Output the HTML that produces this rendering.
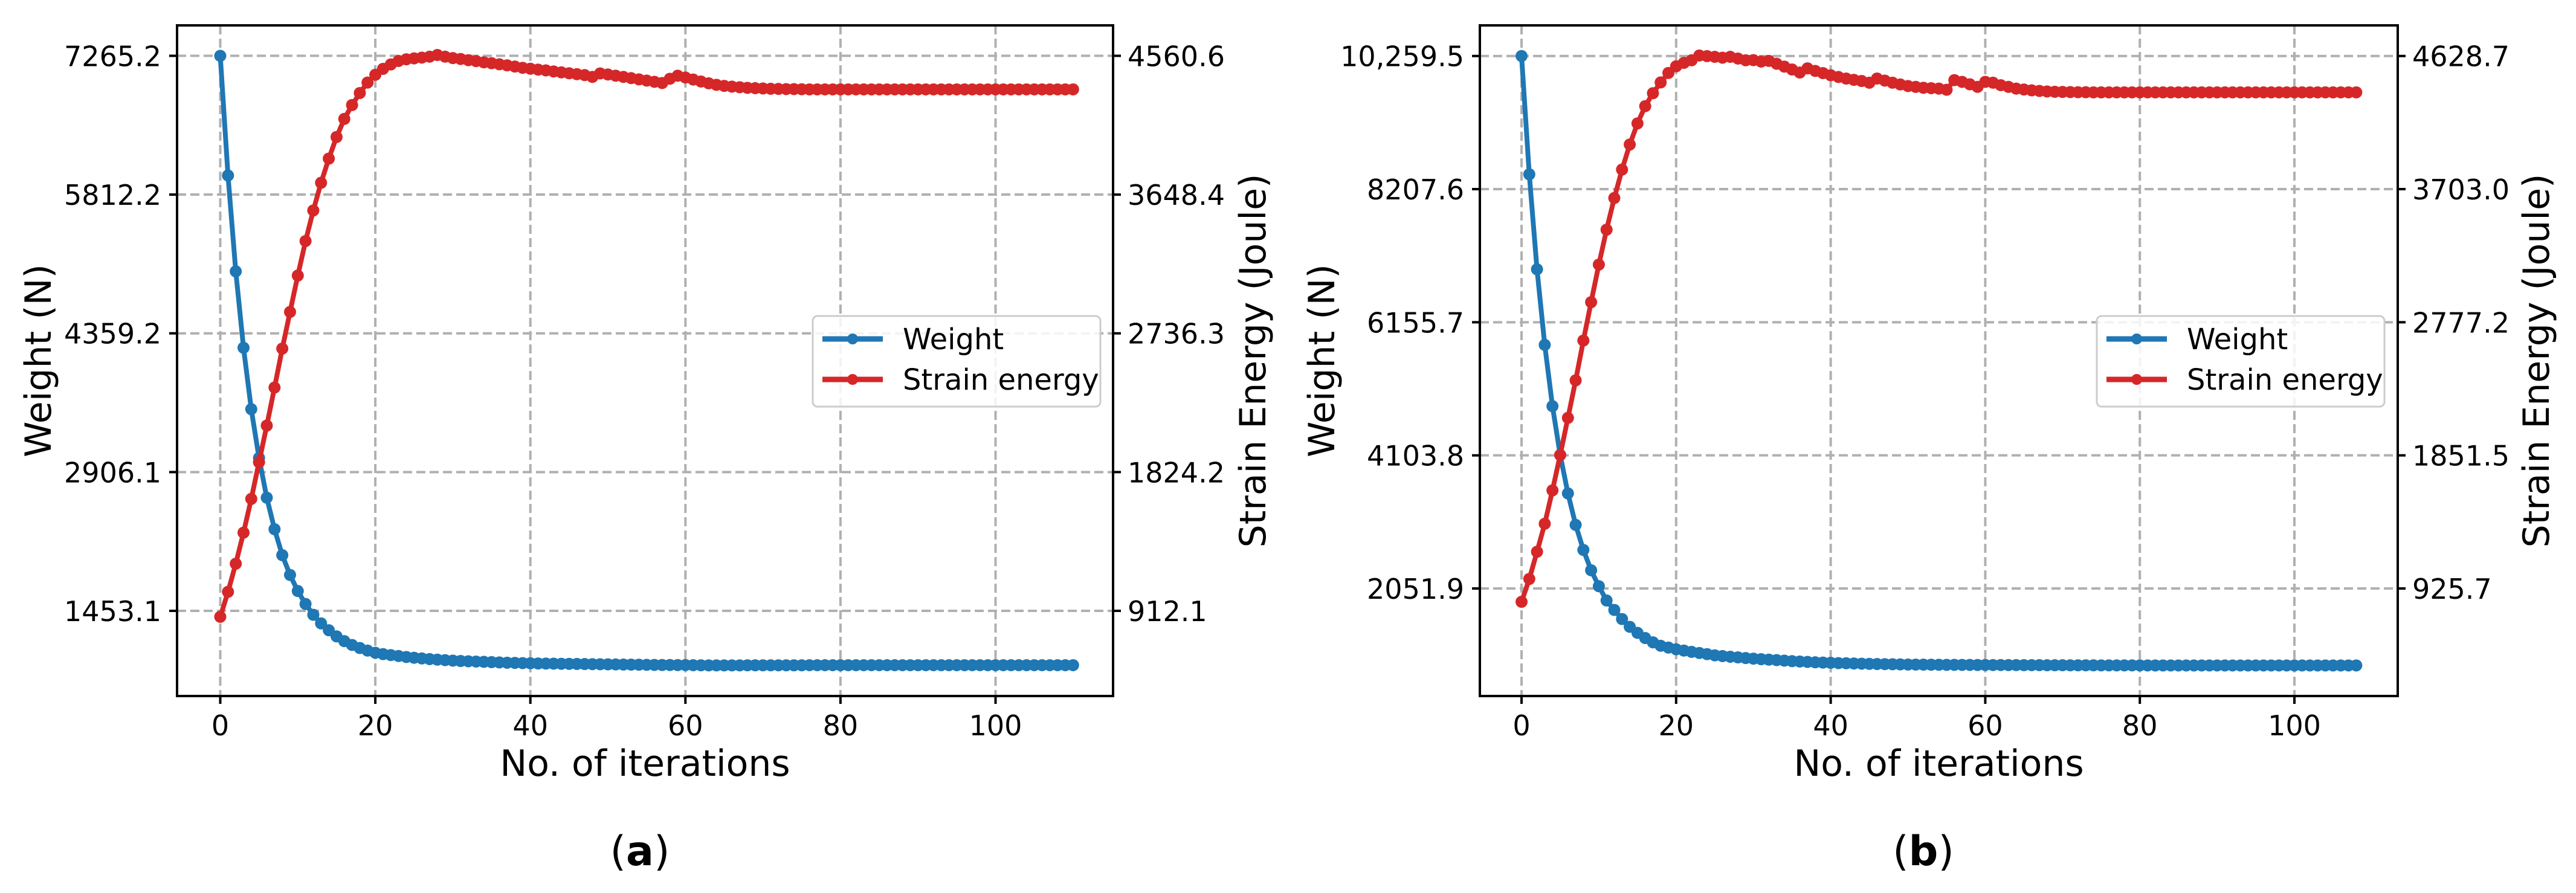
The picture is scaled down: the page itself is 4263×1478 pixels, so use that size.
<!DOCTYPE html>
<html><head><meta charset="utf-8">
<style>
html,body{margin:0;padding:0;background:#fff;}
svg{display:block;}
text{font-family:"DejaVu Sans","Liberation Sans",sans-serif;}
</style></head>
<body>
<svg id="fig" width="4263" height="1478" viewBox="0 0 4263 1478" xmlns="http://www.w3.org/2000/svg"></svg>
<script>
// ---------- Panel (a) data ----------
const aIter = Array.from({length:111},(_, i)=>i);
const aWeight = [7265,6012,5008,4208,3565,3054,2638,2308,2036,1829,1661,1525,1412,1322,1250,1186,1136,1096,1064,1037,1014,
1000,990,980,970,962,955,948,942,937,932,928,925,922,919,916,913,910,908,906,904,
902,901,900,899,898,897,896,895,894,893,892,891,890,889,888,887,886,886,885,885,
884,883,882,882,882,882,882,883,883,883,883,883,883,883,883,884,884,884,884,884,
884,884,884,884,884,884,884,884,884,884,884,884,884,884,884,884,884,884,884,884,884,884,884,884,884,884,884,884,884,884];
const aStrain = [873,1037,1222,1426,1648,1889,2130,2380,2636,2877,3116,3343,3544,3726,3885,4027,4146,4237,4316,4385,4436,4475,4504,4527,4538,4544,4549,4555,4566,4555,
4546,4540,4532,4526,4518,4512,4505,4498,4490,4482,4476,4470,4465,4458,4452,4446,4440,4434,4422,4445,
4438,4430,4422,4414,4406,4398,4390,4382,4410,4430,4418,4405,4392,4380,4370,4363,4358,4354,4350,4348,4346,
4344,4343,4342,4342,4341,4340,4340,4340,4340,4340,4340,4340,4340,4340,4340,4340,4340,4340,4340,4340,
4340,4340,4340,4340,4340,4340,4340,4340,4340,4340,4340,4340,4340,4340,4340,4340,4340,4340,4340,4340];
const aLeftTicks = ["7265.2","5812.2","4359.2","2906.1","1453.1"];
const aRightTicks = ["4560.6","3648.4","2736.3","1824.2","912.1"];
const aLeftVals = [7265.2,5812.2,4359.2,2906.1,1453.1];
const aRightVals = [4560.6,3648.4,2736.3,1824.2,912.1];
const aXTicks = [0,20,40,60,80,100];

// ---------- Panel (b) data ----------
const bIter = Array.from({length:109},(_, i)=>i);
const bWeight = [10259.5,8436,6972,5807,4862,4110,3518,3032,2646,2333,2087,1867,1721,1581,1461,1368,1288,1222,1169,1142,1115,
1095,1075,1058,1040,1022,1010,1000,990,980,970,962,955,948,940,932,926,920,914,910,906,
902,899,896,893,890,888,886,884,882,880,879,878,877,876,875,875,874,874,873,873,
872,872,871,871,870,870,870,869,869,869,868,868,868,868,867,867,867,867,867,867,
866,866,866,866,866,866,866,866,866,866,866,866,866,866,866,866,866,866,866,866,866,866,866,866,866,866,866,866];
const bStrain = [833,992,1181,1376,1608,1854,2112,2373,2650,2917,3178,3421,3641,3839,4013,4160,4280,4370,4445,4511,4557,4581,4599,4632,4628,4623,4617,4623,4611,4599,
4600,4590,4595,4575,4555,4535,4514,4543,4525,4510,
4495,4483,4472,4463,4455,4443,4472,4458,4443,4431,4420,4414,4408,4405,4402,4394,4461,4449,4432,4414,
4449,4443,4426,4414,4402,4396,4390,4386,4382,4380,4379,4378,4377,4377,4376,4376,
4376,4376,4376,4376,4376,4376,4376,4376,4376,4376,4376,4376,4376,4376,4376,4376,4376,4376,4376,4376,4376,4376,4376,4376,4376,4376,4376,4376,4376,4376,4376,4376,4376];
const bLeftTicks = ["10,259.5","8207.6","6155.7","4103.8","2051.9"];
const bRightTicks = ["4628.7","3703.0","2777.2","1851.5","925.7"];
const bLeftVals = [10259.5,8207.6,6155.7,4103.8,2051.9];
const bRightVals = [4628.7,3703.0,2777.2,1851.5,925.7];
const bXTicks = [0,20,40,60,80,100];

const NS="http://www.w3.org/2000/svg";
const svg=document.getElementById('fig');
function mk(tag,attrs,parent){const e=document.createElementNS(NS,tag);for(const k in attrs)e.setAttribute(k,attrs[k]);(parent||svg).appendChild(e);return e;}

function panel(cfg){
  const g=mk('g',{});
  
  
  const L=cfg.box[0],R=cfg.box[1],T=cfg.box[2],B=cfg.box[3];
  const xs=v=>cfg.x0+v*cfg.xs;
  const yl=v=>cfg.y0+(cfg.lv[0]-v)*(cfg.y4-cfg.y0)/(cfg.lv[0]-cfg.lv[4]);
  const yr=v=>cfg.y0+(cfg.rv[0]-v)*(cfg.y4-cfg.y0)/(cfg.rv[0]-cfg.rv[4]);
  cfg.xt.forEach(t=>{const l=mk('line',{x1:xs(t),x2:xs(t),y1:T,y2:B,stroke:'#b0b0b0','stroke-width':4,'stroke-dasharray':'15,7'},g);
    });
  cfg.lv.forEach(v=>{const l=mk('line',{x1:L,x2:R,y1:yl(v),y2:yl(v),stroke:'#b0b0b0','stroke-width':4,'stroke-dasharray':'15,7'},g);
    });
  function series(xsArr,ys,fy,color,nm){
    const sg=mk('g',{},g);
    
    
    mk('polyline',{points:xsArr.map((x,i)=>xs(x)+','+fy(ys[i])).join(' '),fill:'none',stroke:color,'stroke-width':8,'stroke-linejoin':'round'},sg);
    xsArr.forEach((x,i)=>{const c=mk('circle',{cx:xs(x),cy:fy(ys[i]),r:10,fill:color},sg);
      });
  }
  series(cfg.it,cfg.w,yl,'#1f77b4','weight-series');
  series(cfg.it,cfg.s,yr,'#d62728','strain-energy-series');
  const f=mk('rect',{x:L,y:T,width:R-L,height:B-T,fill:'none',stroke:'#000','stroke-width':4},g);
  
  cfg.xt.forEach(t=>{mk('line',{x1:xs(t),x2:xs(t),y1:B,y2:B+13,stroke:'#000','stroke-width':4},g);
    const tx=mk('text',{x:xs(t),y:1217,'font-size':46,'text-anchor':'middle'},g);tx.textContent=t;
    });
  cfg.lv.forEach((v,i)=>{const y=yl(v);mk('line',{x1:L-13,x2:L,y1:y,y2:y,stroke:'#000','stroke-width':4},g);
    const tx=mk('text',{x:L-26,y:y+17,'font-size':46,'text-anchor':'end'},g);tx.textContent=cfg.lt[i];
    });
  cfg.rv.forEach((v,i)=>{const y=yr(v);mk('line',{x1:R,x2:R+13,y1:y,y2:y,stroke:'#000','stroke-width':4},g);
    const tx=mk('text',{x:R+24,y:y+17,'font-size':46,'text-anchor':'start'},g);tx.textContent=cfg.rt[i];
    });
  const xl=mk('text',{x:(L+R)/2,y:1284,'font-size':60,'text-anchor':'middle'},g);xl.textContent='No. of iterations';
  
  const ylb=mk('text',{x:0,y:0,'font-size':60,'text-anchor':'middle',transform:`translate(${cfg.ylx},${(T+B)/2}) rotate(-90)`},g);ylb.textContent='Weight (N)';
  
  const yrb=mk('text',{x:0,y:0,'font-size':60,'text-anchor':'middle',transform:`translate(${cfg.yrx},${(T+B)/2}) rotate(-90)`},g);yrb.textContent='Strain Energy (Joule)';
  
  const lg=mk('g',{},g);
  
  
  const lx=cfg.leg;
  mk('rect',{x:lx,y:523,width:476,height:150,rx:8,fill:'#fff','fill-opacity':0.85,stroke:'#cccccc','stroke-width':3},lg);
  [['Weight','#1f77b4',561],['Strain energy','#d62728',628]].forEach(e=>{
    const eg=mk('g',{},lg);
    
    
    mk('line',{x1:lx+16,x2:lx+116,y1:e[2],y2:e[2],stroke:e[1],'stroke-width':9},eg);
    mk('circle',{cx:lx+66,cy:e[2],r:9,fill:e[1]},eg);
    const t=mk('text',{x:lx+149,y:e[2]+17,'font-size':48},eg);t.textContent=e[0];
  });
  const cap=mk('text',{x:cfg.capx,y:1432,'font-size':68,'text-anchor':'middle','font-family':'"Liberation Serif",serif'},g);
  
  cap.appendChild(document.createTextNode('('));
  const b=mk('tspan',{'font-weight':'bold'},cap);b.textContent=cfg.cap;
  cap.appendChild(document.createTextNode(')'));
}

panel({name:'panel-a',box:[293,1842,42,1152],x0:364.5,xs:12.83,y0:92.4,y4:1011,
  lv:aLeftVals,rv:aRightVals,lt:aLeftTicks,rt:aRightTicks,xt:aXTicks,it:aIter,w:aWeight,s:aStrain,
  ylx:84,yrx:2094,leg:1345,capx:1059,cap:'a'});
panel({name:'panel-b',box:[2449,3968,42,1152],x0:2518,xs:12.79,y0:92.7,y4:974,
  lv:bLeftVals,rv:bRightVals,lt:bLeftTicks,rt:bRightTicks,xt:bXTicks,it:bIter,w:bWeight,s:bStrain,
  ylx:2208,yrx:4218,leg:3470,capx:3183,cap:'b'});
</script>
</body></html>
